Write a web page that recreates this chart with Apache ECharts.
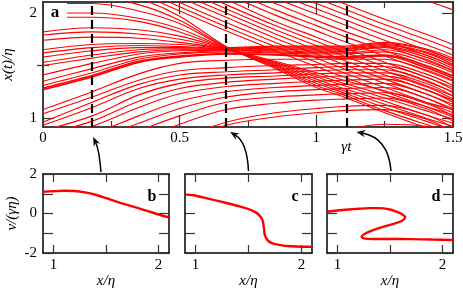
<!DOCTYPE html>
<html><head><meta charset="utf-8">
<script src="https://cdn.jsdelivr.net/npm/echarts@6.0.0/dist/echarts.min.js"></script>
<style>html,body{margin:0;padding:0;background:#fff}#c{width:463px;height:290px}</style>
</head><body><div id="c"></div>
<script>
// ---- data ----
const times = [0, 0.18, 0.35, 0.5, 0.67, 0.85, 1.0, 1.1, 1.25, 1.4, 1.5];

// trajectories rising from below
const lowerPaths = [
  [1.08, 1.25, 1.42, 1.52, 1.55, 1.56, 1.56, 1.56, 1.56, 1.46, 1.36],
  [1.04, 1.20, 1.36, 1.45, 1.48, 1.50, 1.51, 1.52, 1.52, 1.42, 1.31],
  [0.96, 1.15, 1.32, 1.41, 1.44, 1.46, 1.48, 1.49, 1.49, 1.39, 1.27],
  [0.93, 1.10, 1.28, 1.37, 1.41, 1.43, 1.45, 1.46, 1.46, 1.36, 1.24],
  [0.88, 1.02, 1.22, 1.33, 1.38, 1.40, 1.42, 1.43, 1.43, 1.33, 1.21],
  [0.84, 0.97, 1.16, 1.28, 1.34, 1.37, 1.39, 1.40, 1.40, 1.30, 1.18],
  [0.79, 0.92, 1.10, 1.23, 1.30, 1.33, 1.35, 1.36, 1.37, 1.27, 1.15],
  [0.73, 0.85, 1.02, 1.16, 1.25, 1.29, 1.31, 1.32, 1.33, 1.23, 1.11],
  [0.67, 0.79, 0.95, 1.09, 1.20, 1.25, 1.27, 1.28, 1.29, 1.19, 1.07],
  [0.60, 0.72, 0.88, 1.02, 1.15, 1.20, 1.22, 1.23, 1.24, 1.14, 1.02],
  [0.52, 0.63, 0.79, 0.94, 1.08, 1.14, 1.17, 1.18, 1.19, 1.09, 0.97],
  [0.40, 0.50, 0.65, 0.80, 0.96, 1.05, 1.09, 1.11, 1.12, 1.03, 0.91],
  [0.35, 0.45, 0.60, 0.76, 0.93, 1.01, 1.05, 1.07, 1.08, 0.99, 0.87],
  [0.15, 0.25, 0.40, 0.55, 0.68, 0.78, 0.85, 0.89, 0.94, 0.92, 0.82]
];
// trajectories joining the band from below (first two drawn as the thick pair)
const bandPaths = [
  [1.27, 1.39, 1.53, 1.58, 1.61, 1.60, 1.58, 1.57, 1.59, 1.48, 1.38],
  [1.285, 1.405, 1.54, 1.59, 1.615, 1.605, 1.59, 1.585, 1.60, 1.50, 1.40],
  [1.31, 1.43, 1.56, 1.61, 1.63, 1.62, 1.61, 1.61, 1.63, 1.53, 1.43],
  [1.35, 1.47, 1.58, 1.62, 1.64, 1.63, 1.62, 1.62, 1.65, 1.56, 1.45],
  [1.41, 1.52, 1.61, 1.64, 1.645, 1.64, 1.63, 1.635, 1.67, 1.58, 1.47],
  [1.50, 1.57, 1.63, 1.65, 1.65, 1.65, 1.645, 1.645, 1.68, 1.60, 1.49],
  [1.53, 1.60, 1.65, 1.66, 1.655, 1.655, 1.655, 1.655, 1.69, 1.62, 1.51],
  [1.58, 1.64, 1.67, 1.67, 1.66, 1.665, 1.665, 1.665, 1.70, 1.63, 1.53],
  [1.62, 1.67, 1.69, 1.68, 1.665, 1.675, 1.675, 1.675, 1.71, 1.65, 1.55],
  [1.65, 1.70, 1.71, 1.70, 1.67, 1.685, 1.685, 1.685, 1.72, 1.66, 1.57]
];
// trajectories from above passing through the cusp
const cuspPaths = [
  [1.74, 1.77, 1.76, 1.72, 1.655, 1.54, 1.43, 1.36, 1.26, 1.15, 1.08],
  [1.79, 1.82, 1.80, 1.75, 1.655, 1.53, 1.41, 1.33, 1.22, 1.11, 1.03],
  [1.82, 1.86, 1.84, 1.78, 1.66, 1.52, 1.39, 1.31, 1.19, 1.07, 0.99],
  [1.96, 1.96, 1.92, 1.82, 1.66, 1.51, 1.37, 1.28, 1.16, 1.03, 0.95],
  [2.00, 2.00, 1.95, 1.85, 1.665, 1.50, 1.35, 1.26, 1.13, 1.00, 0.92],
  [2.09, 2.09, 2.02, 1.90, 1.67, 1.49, 1.33, 1.24, 1.10, 0.97, 0.88],
  [2.16, 2.16, 2.08, 1.93, 1.675, 1.48, 1.31, 1.22, 1.07, 0.94, 0.86],
  [2.24, 2.24, 2.14, 1.97, 1.68, 1.47, 1.29, 1.20, 1.05, 0.91, 0.83]
];
// trajectories entering from the top later
const topPaths = [
  [2.55, 2.38, 2.19, 2.02, 1.83, 1.64, 1.49, 1.39, 1.25, 1.11, 1.01],
  [2.60, 2.43, 2.24, 2.06, 1.87, 1.68, 1.53, 1.43, 1.29, 1.15, 1.05],
  [2.65, 2.47, 2.28, 2.10, 1.91, 1.72, 1.57, 1.47, 1.33, 1.19, 1.09],
  [2.70, 2.52, 2.33, 2.15, 1.96, 1.76, 1.61, 1.51, 1.37, 1.23, 1.13],
  [2.75, 2.56, 2.37, 2.19, 2.00, 1.80, 1.65, 1.55, 1.41, 1.27, 1.17],
  [2.80, 2.61, 2.42, 2.24, 2.04, 1.84, 1.69, 1.59, 1.45, 1.31, 1.21],
  [2.85, 2.65, 2.46, 2.28, 2.08, 1.88, 1.73, 1.63, 1.49, 1.35, 1.25],
  [2.90, 2.70, 2.50, 2.32, 2.13, 1.92, 1.77, 1.67, 1.53, 1.39, 1.29],
  [2.95, 2.75, 2.55, 2.37, 2.18, 1.98, 1.83, 1.73, 1.59, 1.45, 1.35],
  [3.00, 2.80, 2.60, 2.42, 2.23, 2.03, 1.88, 1.78, 1.64, 1.50, 1.40],
  [3.05, 2.85, 2.65, 2.47, 2.28, 2.09, 1.93, 1.83, 1.69, 1.55, 1.45],
  [3.10, 2.90, 2.70, 2.52, 2.33, 2.14, 1.99, 1.89, 1.74, 1.60, 1.50],
  [3.15, 2.95, 2.75, 2.57, 2.38, 2.19, 2.04, 1.94, 1.79, 1.65, 1.55],
  [3.20, 3.00, 2.80, 2.62, 2.43, 2.24, 2.09, 1.99, 1.84, 1.70, 1.60],
  [3.25, 3.05, 2.85, 2.67, 2.48, 2.29, 2.14, 2.04, 1.89, 1.75, 1.65],
  [3.30, 3.10, 2.90, 2.72, 2.53, 2.34, 2.19, 2.09, 1.94, 1.80, 1.70],
  [3.60, 3.40, 3.20, 3.00, 2.80, 2.60, 2.45, 2.36, 2.23, 2.12, 2.03]
];
const dashTimes = [0.18, 0.67, 1.11];
const topYTicks = [1, 2];
const topYMinor = [1.5];
const panelXLabels = [1, 2];
const panelXTicks = [1, 1.5, 2];
const panelYLabels = [-2, 0, 2];
// v/(gamma eta) versus x/eta at the three marked times
const panelB = [[0.9,1.1],[1.0,1.13],[1.1,1.15],[1.2,1.14],[1.3,1.07],[1.4,0.95],[1.5,0.78],[1.6,0.6],[1.7,0.44],[1.8,0.28],[1.9,0.12],[2.0,-0.05],[2.1,-0.19]];
const panelC = [[0.9,0.97],[1.0,0.9],[1.1,0.78],[1.2,0.65],[1.3,0.52],[1.4,0.38],[1.5,0.22],[1.56,0.08],[1.6,-0.08],[1.63,-0.3],[1.645,-0.7],[1.655,-1.1],[1.68,-1.35],[1.72,-1.5],[1.8,-1.6],[1.9,-1.66],[2.0,-1.68],[2.1,-1.68]];
const panelD = [[0.9,0.09],[1.0,0.15],[1.1,0.2],[1.2,0.24],[1.3,0.27],[1.4,0.27],[1.5,0.2],[1.56,0.1],[1.61,-0.02],[1.645,-0.18],[1.62,-0.35],[1.55,-0.5],[1.45,-0.65],[1.35,-0.82],[1.27,-1.0],[1.23,-1.17],[1.25,-1.26],[1.35,-1.29],[1.5,-1.29],[1.7,-1.3],[1.9,-1.32],[2.1,-1.34]];
const panelNames = ['b', 'c', 'd'];

// ---- chart ----
const FONT = 'Liberation Serif';
const RED = '#ff0000';
const TICK = '#333';
const Y_MIN = 0.914, Y_MAX = 2.105;
const chart = echarts.init(document.getElementById('c'));

const gridRects = [
  {left: 43, top: 2, width: 410, height: 125, outerBoundsMode: 'none', containLabel: false},
  {left: 43, top: 174, width: 126, height: 79, outerBoundsMode: 'none', containLabel: false},
  {left: 185, top: 174, width: 127, height: 79, outerBoundsMode: 'none', containLabel: false},
  {left: 327, top: 174, width: 126, height: 79, outerBoundsMode: 'none', containLabel: false}
];
const lineAxis = {show: true, onZero: false, lineStyle: {color: '#000', width: 1.5}};
const lbl = {fontFamily: FONT, fontSize: 15, color: '#000'};
const nameStyle = {fontFamily: FONT, fontSize: 15, fontStyle: 'italic', color: '#000'};

const xAxes = [
  {gridIndex: 0, type: 'value', position: 'bottom', min: 0, max: 1.5, interval: 0.5,
   axisLine: lineAxis, splitLine: {show: false},
   axisTick: {inside: true, length: 12, lineStyle: {color: TICK, width: 1.2}},
   minorTick: {show: true, splitNumber: 2, length: 6, lineStyle: {color: TICK, width: 1.2}},
   axisLabel: Object.assign({margin: 4, hideOverlap: false}, lbl)},
  {gridIndex: 0, type: 'value', position: 'top', min: 0, max: 1.5, interval: 0.5,
   axisLine: lineAxis, splitLine: {show: false},
   axisTick: {inside: true, length: 12, lineStyle: {color: TICK, width: 1.2}},
   minorTick: {show: true, splitNumber: 2, length: 6, lineStyle: {color: TICK, width: 1.2}},
   axisLabel: {show: false}}
];
const yAxes = [
  {gridIndex: 0, type: 'value', position: 'left', min: Y_MIN, max: Y_MAX,
   axisLine: lineAxis, splitLine: {show: false},
   axisTick: {inside: true, length: 11, customValues: topYTicks, lineStyle: {color: TICK, width: 1.2}},
   axisLabel: Object.assign({margin: 6, customValues: topYTicks}, lbl),
   name: 'x(t)/η', nameLocation: 'middle', nameGap: 27, nameRotate: 90, nameTextStyle: nameStyle},
  {gridIndex: 0, type: 'value', position: 'left', min: Y_MIN, max: Y_MAX,
   axisLine: {show: false}, splitLine: {show: false}, axisLabel: {show: false},
   axisTick: {inside: true, length: 6, customValues: topYMinor, lineStyle: {color: TICK, width: 1.2}}},
  {gridIndex: 0, type: 'value', position: 'right', min: Y_MIN, max: Y_MAX,
   axisLine: lineAxis, splitLine: {show: false}, axisLabel: {show: false},
   axisTick: {inside: true, length: 11, customValues: topYTicks, lineStyle: {color: TICK, width: 1.2}}},
  {gridIndex: 0, type: 'value', position: 'right', min: Y_MIN, max: Y_MAX,
   axisLine: {show: false}, splitLine: {show: false}, axisLabel: {show: false},
   axisTick: {inside: true, length: 6, customValues: topYMinor, lineStyle: {color: TICK, width: 1.2}}}
];
for (let k = 0; k < 3; k++) {
  const g = k + 1;
  xAxes.push({gridIndex: g, type: 'value', position: 'bottom', min: 0.9, max: 2.1,
    axisLine: lineAxis, splitLine: {show: false},
    axisTick: {inside: true, length: 8, customValues: panelXTicks, lineStyle: {color: TICK, width: 1.2}},
    axisLabel: Object.assign({margin: 5, customValues: panelXLabels}, lbl),
    name: 'x/η', nameLocation: 'middle', nameGap: 20, nameTextStyle: nameStyle});
  xAxes.push({gridIndex: g, type: 'value', position: 'top', min: 0.9, max: 2.1,
    axisLine: lineAxis, splitLine: {show: false}, axisLabel: {show: false},
    axisTick: {inside: true, length: 8, customValues: panelXTicks, lineStyle: {color: TICK, width: 1.2}}});
  const left = {gridIndex: g, type: 'value', position: 'left', min: -2, max: 2, interval: 1,
    axisLine: lineAxis, splitLine: {show: false},
    axisTick: {inside: true, length: 10, lineStyle: {color: TICK, width: 1.2}},
    axisLabel: k === 0 ? Object.assign({margin: 6, customValues: panelYLabels}, lbl) : {show: false}};
  if (k === 0) {
    left.name = 'v/(γη)'; left.nameLocation = 'middle'; left.nameGap = 23; left.nameRotate = 90;
    left.nameTextStyle = nameStyle;
  }
  yAxes.push(left);
  yAxes.push({gridIndex: g, type: 'value', position: 'right', min: -2, max: 2, interval: 1,
    axisLine: lineAxis, splitLine: {show: false}, axisLabel: {show: false},
    axisTick: {inside: true, length: 10, lineStyle: {color: TICK, width: 1.2}}});
}

const series = [];
[lowerPaths, bandPaths, cuspPaths, topPaths].forEach(group => {
  group.forEach((p, i) => {
    const thick = (group === bandPaths && i < 2);
    series.push({type: 'line', xAxisIndex: 0, yAxisIndex: 0, clip: true, silent: true,
      symbol: 'none', smooth: 0.35,
      lineStyle: {color: RED, width: thick ? 1.6 : 1.1},
      data: times.map((t, j) => [t, p[j]])});
  });
});
series.push({type: 'line', xAxisIndex: 0, yAxisIndex: 0, data: [], z: 5, silent: true,
  markLine: {symbol: 'none', silent: true, label: {show: false}, animation: false,
    lineStyle: {color: '#000', width: 2.2, type: [9, 5]},
    data: dashTimes.map(t => ({xAxis: t}))}});
[panelB, panelC, panelD].forEach((d, k) => {
  series.push({type: 'line', xAxisIndex: 2 + 2 * k, yAxisIndex: 4 + 2 * k, clip: true, silent: true,
    symbol: 'none', smooth: 0.3, lineStyle: {color: RED, width: 2.4}, data: d});
});

chart.setOption({
  animation: false,
  backgroundColor: '#fff',
  grid: gridRects,
  xAxis: xAxes,
  yAxis: yAxes,
  series: series
});

// ---- annotations ----
function arrow(tail, ctrl, tip) {
  const dx = tip[0] - ctrl[0], dy = tip[1] - ctrl[1];
  const L = Math.hypot(dx, dy), ux = dx / L, uy = dy / L, nx = -uy, ny = ux;
  const hl = 9, hw = 3.6;
  const bx = tip[0] - ux * hl, by = tip[1] - uy * hl;
  const notch = [tip[0] - ux * 6, tip[1] - uy * 6];
  return [
    {type: 'bezierCurve', silent: true, z: 20,
     shape: {x1: tail[0], y1: tail[1], x2: notch[0], y2: notch[1], cpx1: ctrl[0], cpy1: ctrl[1]},
     style: {stroke: '#000', lineWidth: 1.5, fill: null}},
    {type: 'polygon', silent: true, z: 20,
     shape: {points: [tip, [bx + nx * hw, by + ny * hw], notch, [bx - nx * hw, by - ny * hw]]},
     style: {fill: '#000'}}
  ];
}
const feet = dashTimes.map(t => chart.convertToPixel({xAxisIndex: 0, yAxisIndex: 0}, [t, Y_MIN]));
const panelTops = [0, 1, 2].map(k => chart.convertToPixel({xAxisIndex: 2 + 2 * k, yAxisIndex: 4 + 2 * k}, [1.5, 2]));
const arrowOffsets = [
  {tip: [1, 10], ctrl: [7, 23], tail: [-5, -2]},
  {tip: [4, 5], ctrl: [21, 15], tail: [0, -3]},
  {tip: [10, 5], ctrl: [42, 11], tail: [1, -3]}
];
const graphics = [];
feet.forEach((f, k) => {
  const o = arrowOffsets[k];
  const tip = [f[0] + o.tip[0], f[1] + o.tip[1]];
  const ctrl = [f[0] + o.ctrl[0], f[1] + o.ctrl[1]];
  const tail = [panelTops[k][0] + o.tail[0], panelTops[k][1] + o.tail[1]];
  graphics.push(...arrow(tail, ctrl, tip));
});
// panel label a (with white box)
const tl = chart.convertToPixel({xAxisIndex: 0, yAxisIndex: 0}, [0, Y_MAX]);
graphics.push({type: 'rect', silent: true, z: 30,
  shape: {x: tl[0] + 1, y: tl[1] + 1, width: 23, height: 19}, style: {fill: '#fff'}});
graphics.push({type: 'text', silent: true, z: 31, x: tl[0] + 12, y: tl[1] + 11,
  style: {text: 'a', font: 'bold 17px "Liberation Serif"', fill: '#000', align: 'center', verticalAlign: 'middle'}});
// panel labels b, c, d
panelNames.forEach((n, k) => {
  const p = chart.convertToPixel({xAxisIndex: 2 + 2 * k, yAxisIndex: 4 + 2 * k}, [2.1, 2]);
  graphics.push({type: 'text', silent: true, z: 31, x: p[0] - 17, y: p[1] + 23,
    style: {text: n, font: 'bold 16px "Liberation Serif"', fill: '#000', align: 'center', verticalAlign: 'middle'}});
});
// gamma t axis title
const gt = chart.convertToPixel({xAxisIndex: 0, yAxisIndex: 0}, [dashTimes[2], Y_MIN]);
graphics.push({type: 'text', silent: true, z: 31, x: gt[0], y: gt[1] + 20,
  style: {text: 'γt', font: 'italic 15px "Liberation Serif"', fill: '#000', align: 'center', verticalAlign: 'middle'}});

chart.setOption({graphic: graphics});
</script>
</body></html>
